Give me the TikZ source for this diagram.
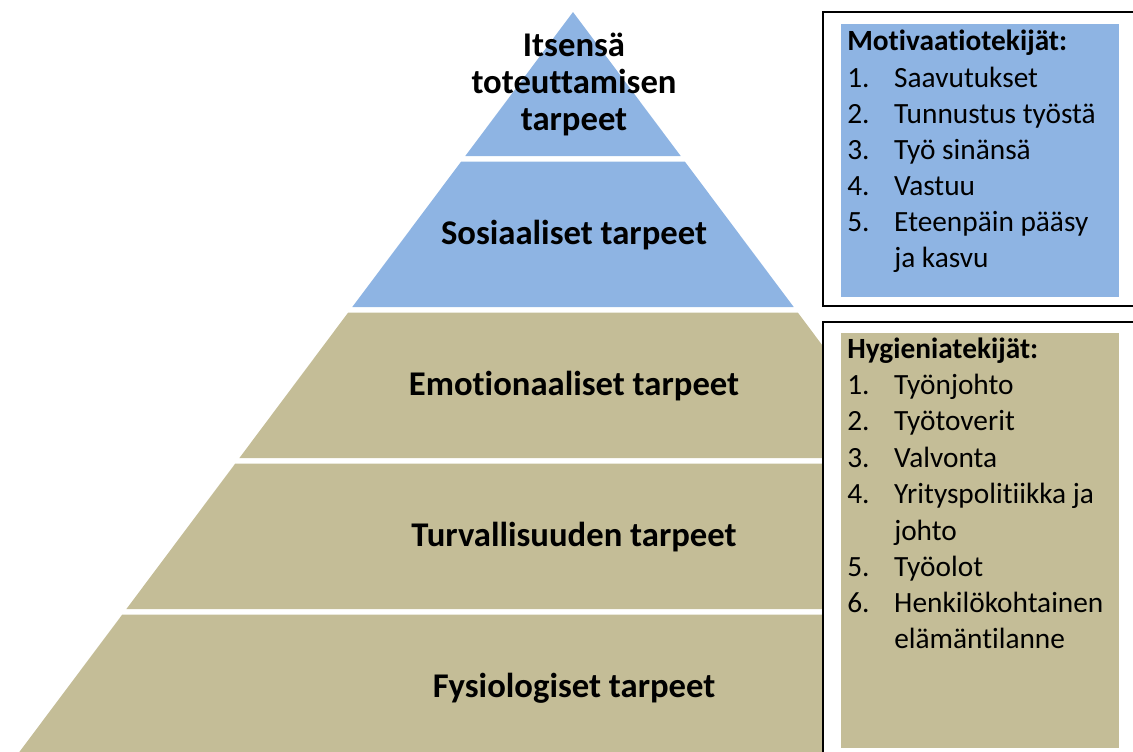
\documentclass[tikz,border=0pt]{standalone}
\usepackage{fontspec}
\setmainfont{Carlito}[Ligatures=NoCommon]
\definecolor{needblue}{HTML}{8EB4E3}
\definecolor{needtan}{HTML}{C4BD97}
\tikzset{
  levellabel/.style={font=\bfseries\fontsize{26}{27.75}\selectfont, align=center, inner sep=0},
  factorbox/.style={draw=black, line width=1.5pt, fill=white},
  factorhead/.style={anchor=base west, inner sep=0, font=\bfseries\fontsize{22}{27}\selectfont},
  factoritem/.style={anchor=base west, inner sep=0, font=\fontsize{22}{27}\selectfont},
}
\newcommand{\itemno}[1]{\makebox[35.25pt][l]{#1}}

\begin{document}
\begin{tikzpicture}[x=0.75pt,y=-0.75pt]
            \clip (0,0) rectangle (1133,751);
            % pyramid
            \fill[needblue] (573,12) -- (680.7,156) -- (465.3,156) -- cycle;
            \fill[needblue] (461.2,161.5) -- (684.8,161.5) -- (793.7,307) -- (352.3,307) -- cycle;
            \fill[needtan] (348.2,312.5) -- (797.8,312.5) -- (906.6,458) -- (239.4,458) -- cycle;
            \fill[needtan] (235.3,463.5) -- (910.7,463.5) -- (1019.6,609) -- (126.4,609) -- cycle;
            \fill[needtan] (122.3,614.5) -- (1023.7,614.5) -- (1133.4,761) -- (12.6,761) -- cycle;
            \node[levellabel] (itsensa) at (574,84) {Itsensä\\toteuttamisen\\tarpeet};
            \node[levellabel] (sosiaaliset) at (574,235) {Sosiaaliset tarpeet};
            \node[levellabel] (emotionaaliset) at (574,386) {Emotionaaliset tarpeet};
            \node[levellabel] (turvallisuus) at (574,537) {Turvallisuuden tarpeet};
            \node[levellabel] (fysiologiset) at (574,688) {Fysiologiset tarpeet};
            % motivaatiotekijat
            \draw[factorbox] (823,12) rectangle (1145,306);
            \fill[needblue] (841,24) rectangle (1119,297);
            \node[factorhead] (mothead) at (847,50) {Motivaatiotekijät:};
            \node[factoritem] (mot1) at (847,87) {\itemno{1.}Saavutukset};
            \node[factoritem] (mot2) at (847,123) {\itemno{2.}Tunnustus työstä};
            \node[factoritem] (mot3) at (847,159) {\itemno{3.}Työ sinänsä};
            \node[factoritem] (mot4) at (847,195) {\itemno{4.}Vastuu};
            \node[factoritem] (mot5) at (847,231) {\itemno{5.}Eteenpäin pääsy};
            \node[factoritem] (mot5b) at (894,267) {ja kasvu};
            % hygieniatekijat
            \draw[factorbox] (823,322) rectangle (1145,770);
            \fill[needtan] (841,333) rectangle (1119,748);
            \node[factorhead] (hyghead) at (847,358) {Hygieniatekijät:};
            \node[factoritem] (hyg1) at (847,394) {\itemno{1.}Työnjohto};
            \node[factoritem] (hyg2) at (847,430) {\itemno{2.}Työtoverit};
            \node[factoritem] (hyg3) at (847,467) {\itemno{3.}Valvonta};
            \node[factoritem] (hyg4) at (847,503) {\itemno{4.}Yrityspolitiikka ja};
            \node[factoritem] (hyg4b) at (894,540) {johto};
            \node[factoritem] (hyg5) at (847,576) {\itemno{5.}Työolot};
            \node[factoritem] (hyg6) at (847,612) {\itemno{6.}Henkilökohtainen};
            \node[factoritem] (hyg6b) at (894,648) {elämäntilanne};
        \end{tikzpicture}
\end{document}
